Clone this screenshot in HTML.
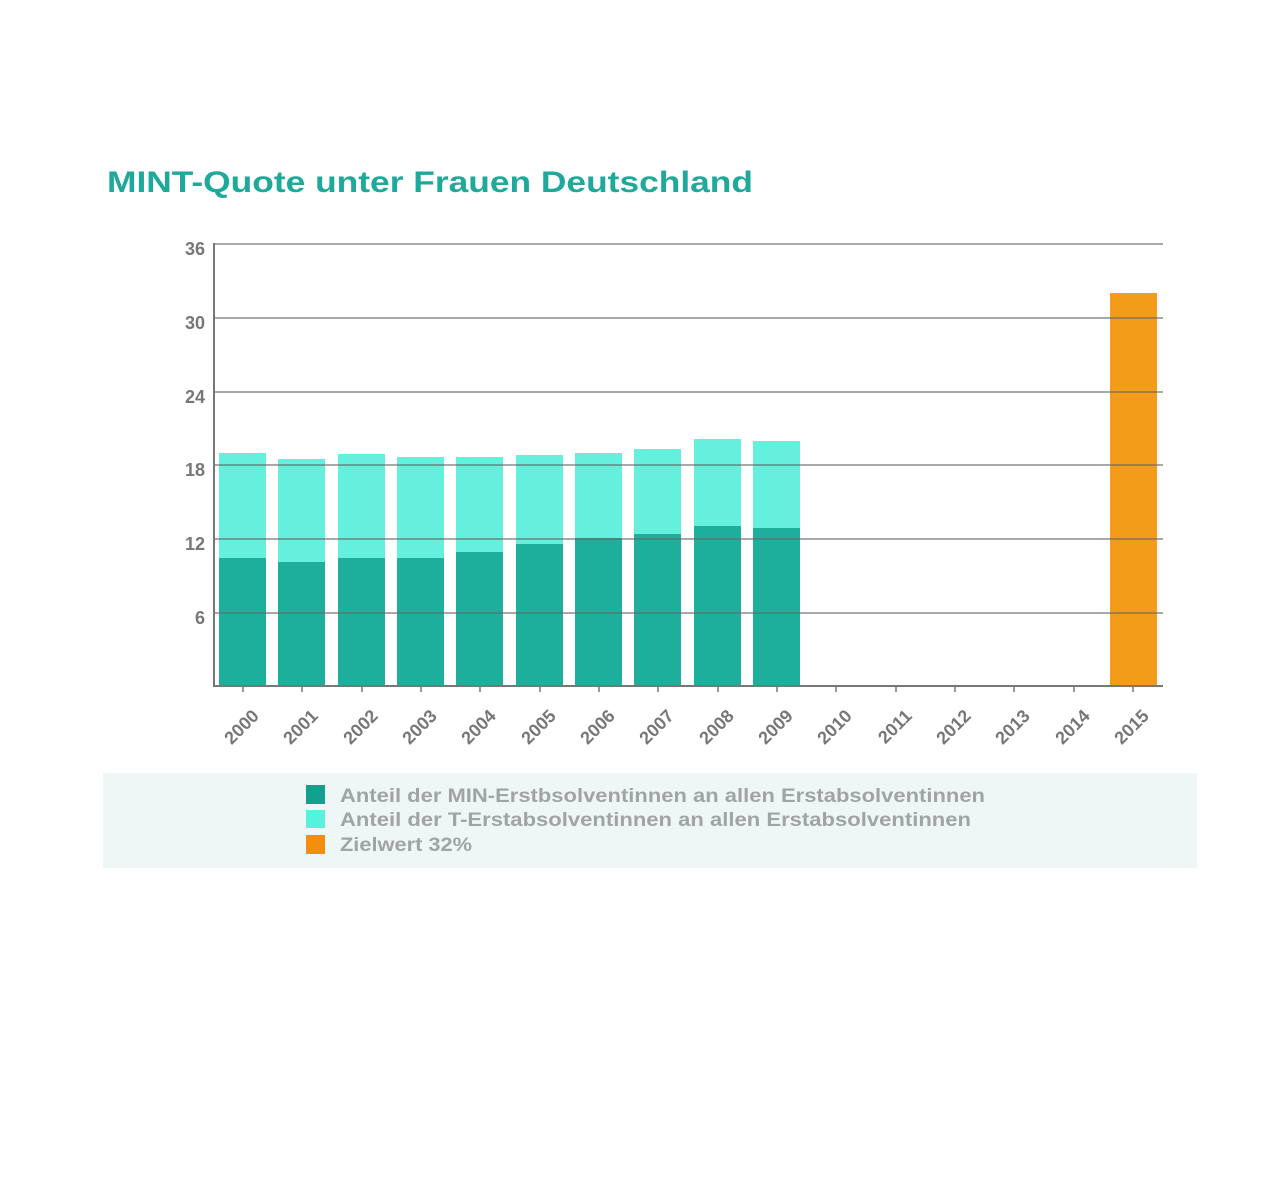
<!DOCTYPE html>
<html><head><meta charset="utf-8"><style>
html,body{margin:0;padding:0;background:#fff;}
svg{display:block;}
</style></head><body>
<svg width="1280" height="1190" viewBox="0 0 1280 1190" xmlns="http://www.w3.org/2000/svg" font-family="Liberation Sans, Arial, sans-serif">
<rect width="1280" height="1190" fill="#fff"/>
<text x="107" y="192" font-size="30" font-weight="bold" fill="#1fa99a" textLength="646" lengthAdjust="spacingAndGlyphs">MINT-Quote unter Frauen Deutschland</text>
<g id="bars">
<rect x="219" y="453" width="47" height="233" fill="#64f0dc"/><rect x="219" y="558" width="47" height="128" fill="#1daf9c"/>
<rect x="278" y="459" width="47" height="227" fill="#64f0dc"/><rect x="278" y="562" width="47" height="124" fill="#1daf9c"/>
<rect x="338" y="454" width="47" height="232" fill="#64f0dc"/><rect x="338" y="558" width="47" height="128" fill="#1daf9c"/>
<rect x="397" y="457" width="47" height="229" fill="#64f0dc"/><rect x="397" y="558" width="47" height="128" fill="#1daf9c"/>
<rect x="456" y="457" width="47" height="229" fill="#64f0dc"/><rect x="456" y="552" width="47" height="134" fill="#1daf9c"/>
<rect x="516" y="455" width="47" height="231" fill="#64f0dc"/><rect x="516" y="544" width="47" height="142" fill="#1daf9c"/>
<rect x="575" y="453" width="47" height="233" fill="#64f0dc"/><rect x="575" y="538" width="47" height="148" fill="#1daf9c"/>
<rect x="634" y="449" width="47" height="237" fill="#64f0dc"/><rect x="634" y="534" width="47" height="152" fill="#1daf9c"/>
<rect x="694" y="439" width="47" height="247" fill="#64f0dc"/><rect x="694" y="526" width="47" height="160" fill="#1daf9c"/>
<rect x="753" y="441" width="47" height="245" fill="#64f0dc"/><rect x="753" y="528" width="47" height="158" fill="#1daf9c"/>
<rect x="1110" y="293" width="47" height="393" fill="#f39c1a"/>
</g>
<g stroke="#666" stroke-width="1.6" opacity="0.75">
<line x1="214" y1="244" x2="1163" y2="244"/>
<line x1="214" y1="318" x2="1163" y2="318"/>
<line x1="214" y1="392" x2="1163" y2="392"/>
<line x1="214" y1="465" x2="1163" y2="465"/>
<line x1="214" y1="539" x2="1163" y2="539"/>
<line x1="214" y1="613" x2="1163" y2="613"/>
</g>
<g stroke="#777" stroke-width="2">
<line x1="214" y1="243" x2="214" y2="687"/>
<line x1="213" y1="686" x2="1163" y2="686"/>
</g>
<g stroke="#777" stroke-width="1.5">
<line x1="243" y1="686" x2="243" y2="692"/><line x1="302" y1="686" x2="302" y2="692"/><line x1="362" y1="686" x2="362" y2="692"/><line x1="421" y1="686" x2="421" y2="692"/><line x1="480" y1="686" x2="480" y2="692"/><line x1="540" y1="686" x2="540" y2="692"/><line x1="599" y1="686" x2="599" y2="692"/><line x1="658" y1="686" x2="658" y2="692"/><line x1="718" y1="686" x2="718" y2="692"/><line x1="777" y1="686" x2="777" y2="692"/><line x1="836" y1="686" x2="836" y2="692"/><line x1="896" y1="686" x2="896" y2="692"/><line x1="955" y1="686" x2="955" y2="692"/><line x1="1014" y1="686" x2="1014" y2="692"/><line x1="1074" y1="686" x2="1074" y2="692"/><line x1="1133" y1="686" x2="1133" y2="692"/>
</g>
<g font-size="18" font-weight="bold" fill="#777" text-anchor="end">
<text x="205" y="255">36</text><text x="205" y="329">30</text><text x="205" y="403">24</text><text x="205" y="476">18</text><text x="205" y="550">12</text><text x="205" y="624">6</text>
</g>
<g font-size="18" font-weight="bold" fill="#777" text-anchor="end">
<text transform="translate(260,717) rotate(-45)">2000</text>
<text transform="translate(319,717) rotate(-45)">2001</text>
<text transform="translate(379,717) rotate(-45)">2002</text>
<text transform="translate(438,717) rotate(-45)">2003</text>
<text transform="translate(497,717) rotate(-45)">2004</text>
<text transform="translate(557,717) rotate(-45)">2005</text>
<text transform="translate(616,717) rotate(-45)">2006</text>
<text transform="translate(675,717) rotate(-45)">2007</text>
<text transform="translate(735,717) rotate(-45)">2008</text>
<text transform="translate(794,717) rotate(-45)">2009</text>
<text transform="translate(853,717) rotate(-45)">2010</text>
<text transform="translate(913,717) rotate(-45)">2011</text>
<text transform="translate(972,717) rotate(-45)">2012</text>
<text transform="translate(1031,717) rotate(-45)">2013</text>
<text transform="translate(1091,717) rotate(-45)">2014</text>
<text transform="translate(1150,717) rotate(-45)">2015</text>
</g>
<rect x="103" y="773" width="1094" height="95" fill="#eef7f6"/>
<rect x="306" y="785" width="19" height="19" fill="#13a08e"/>
<rect x="306" y="810" width="19" height="18" fill="#56f2de"/>
<rect x="306" y="835" width="19" height="19" fill="#f58d0e"/>
<g font-size="19" font-weight="bold" fill="#a0a4a4">
<text x="340" y="802" textLength="645" lengthAdjust="spacingAndGlyphs">Anteil der MIN-Erstbsolventinnen an allen Erstabsolventinnen</text>
<text x="340" y="826" textLength="631" lengthAdjust="spacingAndGlyphs">Anteil der T-Erstabsolventinnen an allen Erstabsolventinnen</text>
<text x="340" y="851" textLength="132" lengthAdjust="spacingAndGlyphs">Zielwert 32%</text>
</g>
</svg>
</body></html>
